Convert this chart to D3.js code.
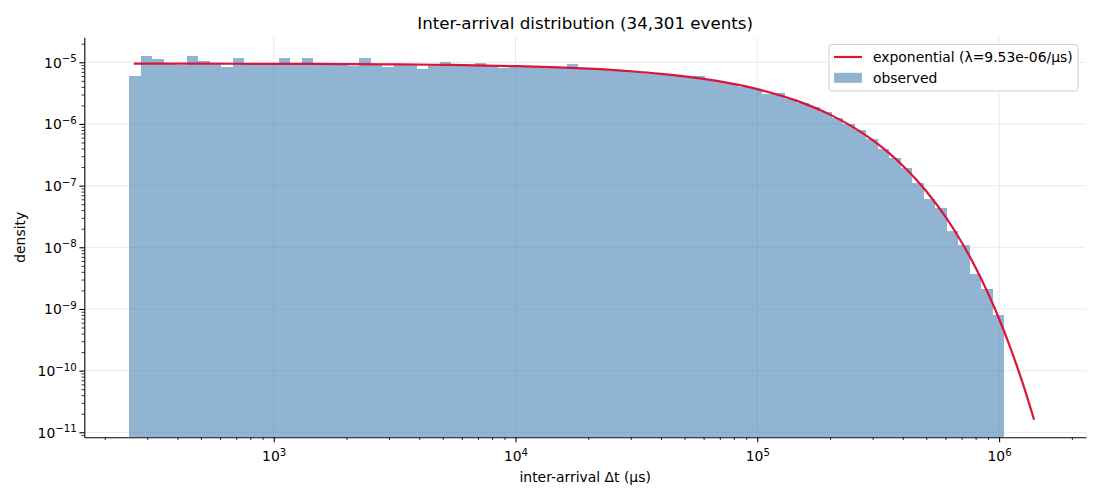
<!DOCTYPE html>
<html>
<head>
<meta charset="utf-8">
<script src="https://cdn.jsdelivr.net/npm/d3@7"></script>
<style>
  body { margin: 0; background: #fff; }
  svg { font-family: "DejaVu Sans", sans-serif; }
  .grid line { stroke: #e4e4e4; stroke-width: 0.8; }
  .axis path, .axis line { stroke: #000; }
</style>
</head>
<body>
<svg id="chart" width="1100" height="500"></svg>
<script>
// histogram bin edges (µs), log-spaced
var binEdges = [252.1, 281.3, 313.9, 350.4, 390.9, 436.3, 486.8, 543.3, 606.2, 676.6,
  755.0, 842.4, 940.2, 1049, 1171, 1307, 1458, 1627, 1815, 2026,
  2261, 2522, 2815, 3141, 3505, 3911, 4365, 4871, 5435, 6066,
  6768, 7553, 8430, 9406, 10495, 11713, 13070, 14585, 16275, 18163,
  20268, 22616, 25240, 28164, 31427, 35075, 39138, 43672, 48733, 54387,
  60688, 67719, 75575, 84333, 94103, 105024, 117191, 130769, 145918, 162856,
  181723, 202777, 226310, 252530, 281785, 314485, 350919, 391572, 436935, 487641,
  544134, 607174, 677633, 756139, 843739, 941651, 1050743];

// observed density per bin
var observed = [6.0e-6, 1.26e-5, 1.13e-5, 9.5e-6, 9.1e-6, 1.26e-5, 1.05e-5, 9.6e-6, 8.5e-6, 1.17e-5,
  9.5e-6, 9.4e-6, 9.4e-6, 1.17e-5, 9.4e-6, 1.17e-5, 9.4e-6, 9.4e-6, 8.9e-6, 8.8e-6,
  1.17e-5, 9.3e-6, 8.5e-6, 9.2e-6, 9.2e-6, 7.8e-6, 9.1e-6, 1.01e-5, 9.0e-6, 8.9e-6,
  9.7e-6, 8.8e-6, 8.2e-6, 8.7e-6, 8.6e-6, 8.5e-6, 8.3e-6, 8.2e-6, 9.4e-6, 7.9e-6,
  7.75e-6, 7.55e-6, 7.4e-6, 7.1e-6, 6.9e-6, 6.7e-6, 6.45e-6, 6.1e-6, 5.8e-6, 6.05e-6,
  5.1e-6, 4.8e-6, 4.45e-6, 4.03e-6, 3.7e-6, 3.1e-6, 3.2e-6, 2.55e-6, 2.2e-6, 1.85e-6,
  1.55e-6, 1.25e-6, 1.0e-6, 8.0e-7, 5.7e-7, 3.93e-7, 2.81e-7, 1.95e-7, 1.09e-7, 6.07e-8,
  4.3e-8, 1.84e-8, 1.09e-8, 3.7e-9, 2.1e-9, 8.1e-10];

// fitted exponential curve
var fitT = [264, 500, 1000, 2000, 3000, 5000, 10000, 15000, 20000, 30000,
  40000, 50000, 70000, 100000, 150000, 200000, 250000, 300000, 350000, 400000,
  450000, 500000, 600000, 700000, 800000, 900000, 1000000, 1100000, 1200000, 1300000, 1395000];
var fitDensity = [9.506e-6, 9.485e-6, 9.440e-6, 9.350e-6, 9.261e-6, 9.087e-6, 8.664e-6, 8.261e-6, 7.876e-6, 7.160e-6,
  6.509e-6, 5.917e-6, 4.891e-6, 3.674e-6, 2.282e-6, 1.417e-6, 8.798e-7, 5.463e-7, 3.392e-7, 2.107e-7,
  1.308e-7, 8.125e-8, 3.133e-8, 1.208e-8, 4.658e-9, 1.796e-9, 6.93e-10, 2.67e-10, 1.03e-10, 3.97e-11, 1.60e-11];

var xMajor = [1e3, 1e4, 1e5, 1e6];
var yMajor = [1e-11, 1e-10, 1e-9, 1e-8, 1e-7, 1e-6, 1e-5];

var titleText = "Inter-arrival distribution (34,301 events)";
var xLabel = "inter-arrival \u0394t (\u00b5s)";
var yLabel = "density";
var fitLabel = "exponential (\u03bb=9.53e-06/\u00b5s)";
var obsLabel = "observed";

var svg = d3.select("#chart"),
    margin = {top: 37.3, right: 14, bottom: 62.7, left: 84.3},
    width = +svg.attr("width") - margin.left - margin.right,
    height = +svg.attr("height") - margin.top - margin.bottom,
    g = svg.append("g").attr("transform", "translate(" + margin.left + "," + margin.top + ")");

var x = d3.scaleLog()
    .domain([164.7, 2.288e6])
    .range([0, width]);

var y = d3.scaleLog()
    .domain([8.295e-12, 2.543e-5])
    .range([height, 0]);

var isMajor = function(d) { return Math.abs(Math.log10(d) - Math.round(Math.log10(d))) < 1e-6; };

// grid
g.append("g").attr("class", "grid")
  .selectAll("line").data(xMajor).enter().append("line")
    .attr("x1", function(d) { return x(d); }).attr("x2", function(d) { return x(d); })
    .attr("y1", 0).attr("y2", height);
g.append("g").attr("class", "grid")
  .selectAll("line").data(yMajor).enter().append("line")
    .attr("x1", 0).attr("x2", width)
    .attr("y1", function(d) { return y(d); }).attr("y2", function(d) { return y(d); });

// bars
g.append("g")
    .attr("shape-rendering", "crispEdges")
  .selectAll("rect").data(observed).enter().append("rect")
    .attr("x", function(d, i) { return x(binEdges[i]); })
    .attr("width", function(d, i) { return x(binEdges[i + 1]) - x(binEdges[i]); })
    .attr("y", function(d) { return y(d); })
    .attr("height", function(d) { return height - y(d); })
    .attr("fill", "steelblue")
    .attr("fill-opacity", 0.6);

// fitted line
var line = d3.line()
    .x(function(d) { return x(d[0]); })
    .y(function(d) { return y(d[1]); })
    .curve(d3.curveMonotoneX);

g.append("path")
    .datum(d3.zip(fitT, fitDensity))
    .attr("fill", "none")
    .attr("stroke", "crimson")
    .attr("stroke-width", 2.2)
    .attr("d", line);

function supLabel(sel, anchor) {
  sel.each(function(d) {
    var e = Math.round(Math.log10(d));
    var t = d3.select(this).text(null)
      .attr("text-anchor", anchor)
      .style("font-size", "13.9px")
      .style("font-family", "'DejaVu Sans', sans-serif");
    t.append("tspan").text("10");
    t.append("tspan").attr("dy", "-0.55em").style("font-size", "10.2px")
      .text(e < 0 ? "\u2212" + (-e) : "" + e);
  });
}

// x axis
var xMinor = x.ticks().filter(function(d) { return !isMajor(d); });
g.append("g")
    .attr("class", "axis")
    .attr("transform", "translate(0," + height + ")")
    .call(d3.axisBottom(x).tickValues(xMinor).tickSize(2.8).tickFormat(""))
    .call(function(a) { a.select(".domain").remove(); a.selectAll("line").attr("stroke-width", 0.8); });
var gx = g.append("g")
    .attr("class", "axis")
    .attr("transform", "translate(0," + height + ")")
    .call(d3.axisBottom(x).tickValues(xMajor).tickSizeInner(4.9).tickSizeOuter(0));
gx.select(".domain").attr("stroke-width", 1.1);
gx.selectAll(".tick line").attr("stroke-width", 1.1);
gx.selectAll(".tick text").attr("y", 24).attr("dy", 0).call(supLabel, "middle");

// y axis
var yMinor = y.ticks().filter(function(d) { return !isMajor(d); });
g.append("g")
    .attr("class", "axis")
    .call(d3.axisLeft(y).tickValues(yMinor).tickSize(2.8).tickFormat(""))
    .call(function(a) { a.select(".domain").remove(); a.selectAll("line").attr("stroke-width", 0.8); });
var gy = g.append("g")
    .attr("class", "axis")
    .call(d3.axisLeft(y).tickValues(yMajor).tickSizeInner(4.9).tickSizeOuter(0));
gy.select(".domain").attr("stroke-width", 1.1);
gy.selectAll(".tick line").attr("stroke-width", 1.1);
gy.selectAll(".tick text").attr("x", -7.5).attr("dy", "0.36em").call(supLabel, "end");

// labels
svg.append("text")
    .attr("x", margin.left + width / 2).attr("y", 29)
    .attr("text-anchor", "middle").attr("font-size", "16.7px")
    .text(titleText);
svg.append("text")
    .attr("x", margin.left + width / 2).attr("y", 482)
    .attr("text-anchor", "middle").attr("font-size", "13.9px")
    .text(xLabel);
svg.append("text")
    .attr("transform", "translate(25," + (margin.top + height / 2) + ") rotate(-90)")
    .attr("text-anchor", "middle").attr("font-size", "13.9px")
    .text(yLabel);

// legend
var legend = svg.append("g").attr("transform", "translate(829,44.5)");
legend.append("rect")
    .attr("width", 249).attr("height", 46.5).attr("rx", 3)
    .attr("fill", "#fff").attr("fill-opacity", 0.8)
    .attr("stroke", "#d0d0d0").attr("stroke-width", 1);
legend.append("line")
    .attr("x1", 5).attr("x2", 33).attr("y1", 12.5).attr("y2", 12.5)
    .attr("stroke", "crimson").attr("stroke-width", 2.2);
legend.append("text")
    .attr("x", 44).attr("y", 17.6).attr("font-size", "13.9px")
    .text(fitLabel);
legend.append("rect")
    .attr("x", 5).attr("y", 28.3).attr("width", 28).attr("height", 10)
    .attr("fill", "steelblue").attr("fill-opacity", 0.6);
legend.append("text")
    .attr("x", 44).attr("y", 38).attr("font-size", "13.9px")
    .text(obsLabel);
</script>
</body>
</html>
